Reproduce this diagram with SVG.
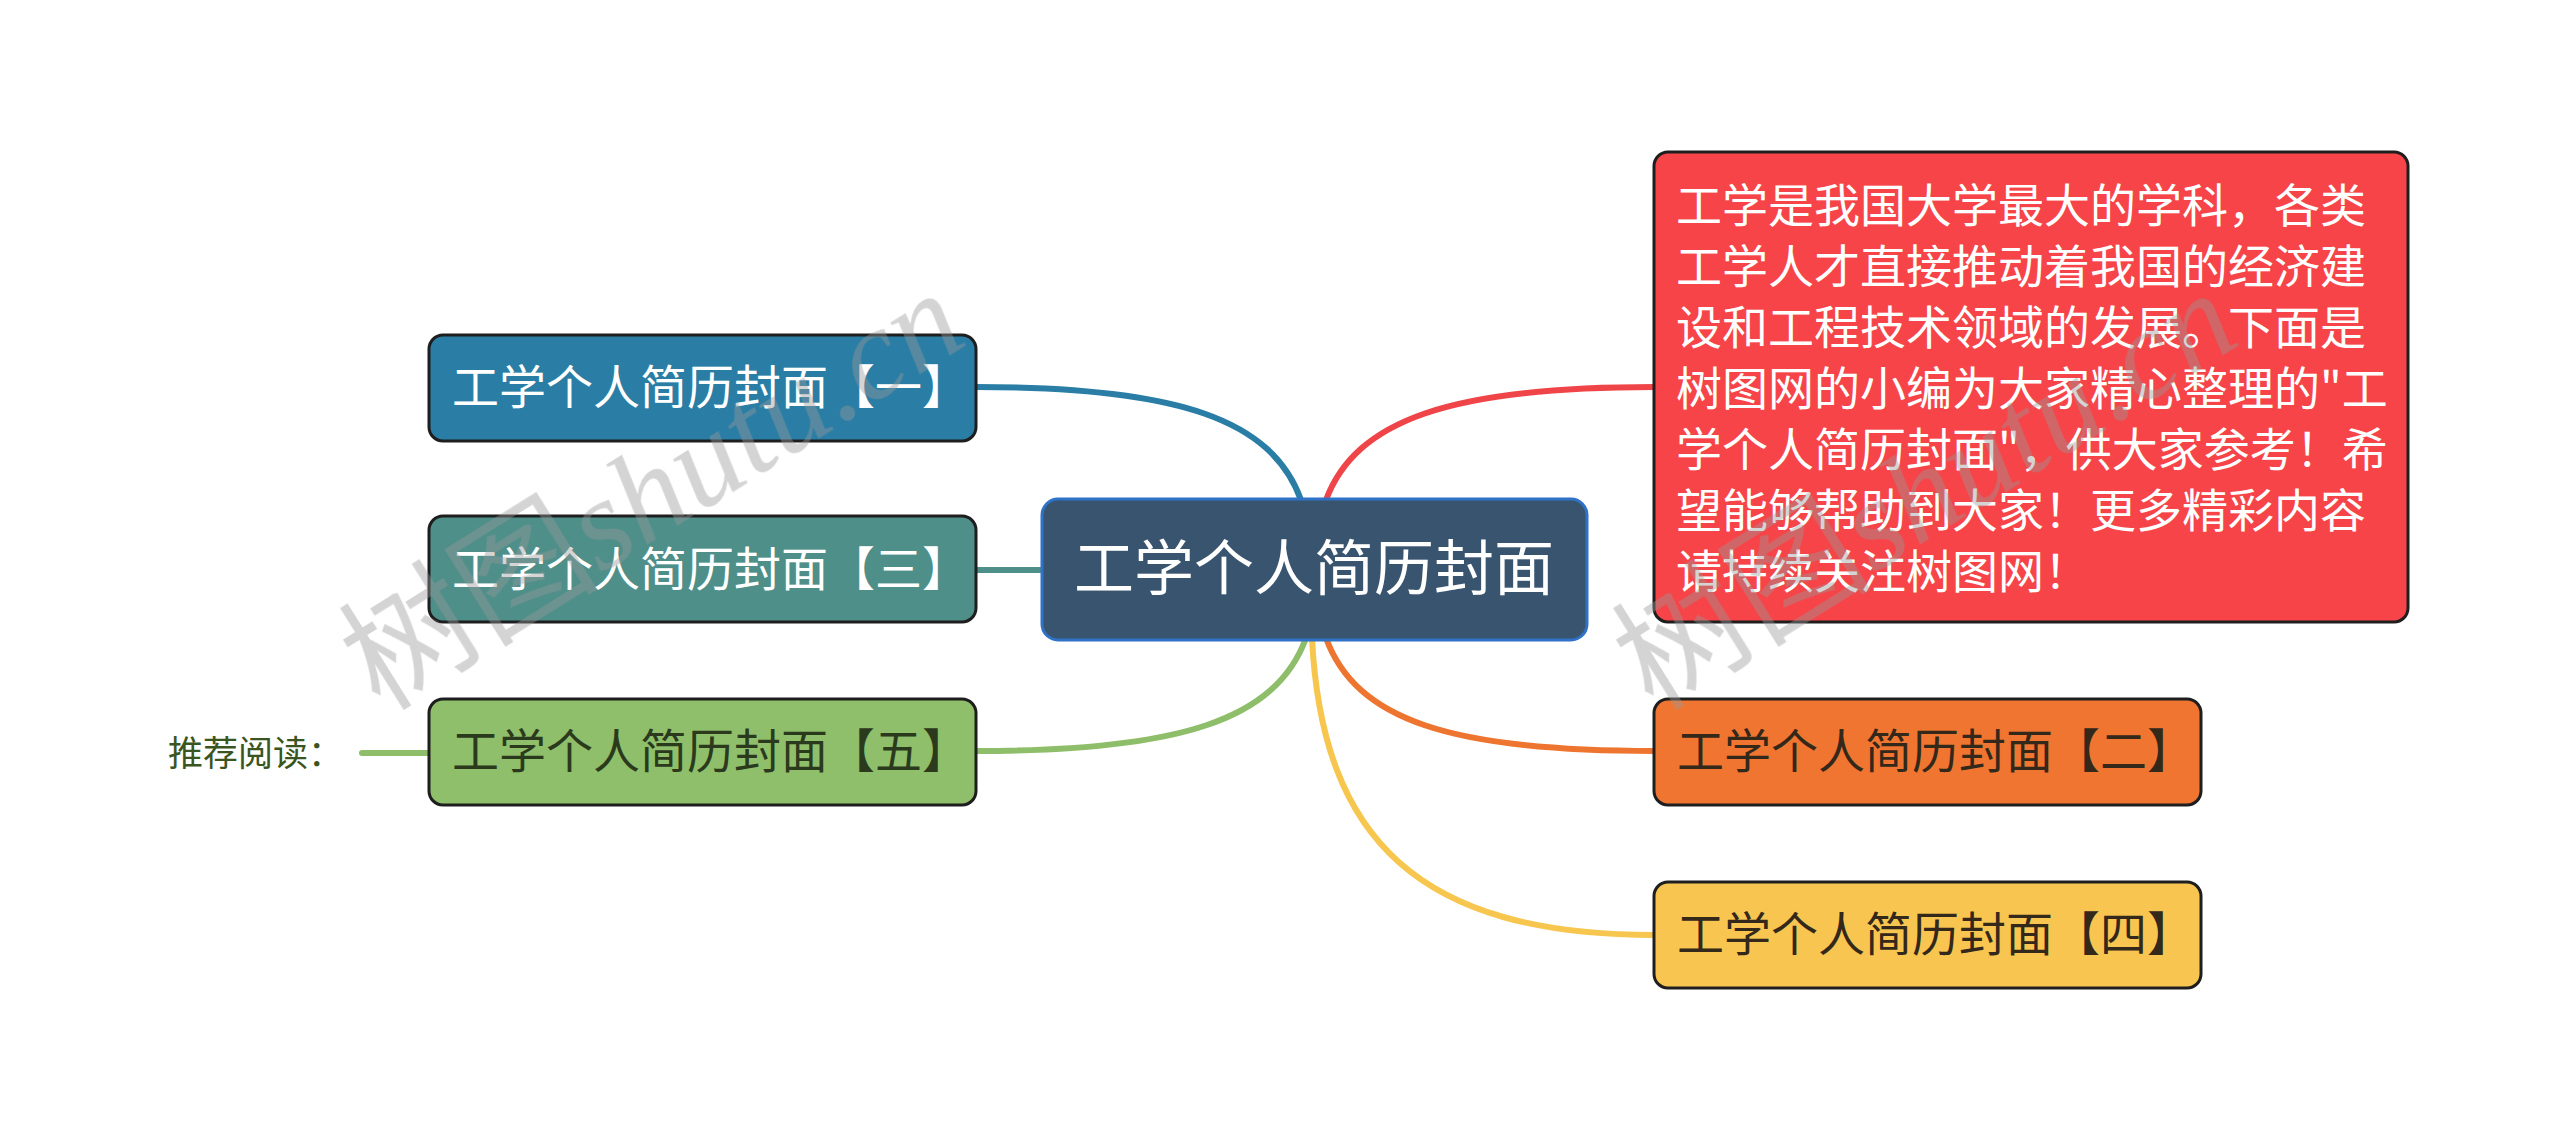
<svg xmlns="http://www.w3.org/2000/svg" width="2560" height="1139" viewBox="0 0 2560 1139">
<defs>
<style>
.cjk{font-family:"Noto Sans CJK SC","Noto Sans",sans-serif;}
.node rect{stroke:#1e1e1e;stroke-width:3;}
.sub{font-size:47px;}
.light{fill:#ffffff;}
.dark{fill:#33281a;}
.conn path{fill:none;stroke-width:6;stroke-linecap:round;}
.wm{font-size:130px;fill:#9a9a9a;opacity:0.42;}
</style>
</defs>
<rect width="2560" height="1139" fill="#ffffff"/>
<g id="connectors" class="conn">
<path d="M 1301 500 C 1272 420, 1180 387, 976 387" stroke="#2a7ea5"/>
<path d="M 976 570 L 1042 570" stroke="#4e8f8a"/>
<path d="M 1306 638 C 1276 720, 1180 751, 976 751" stroke="#8fbe6a"/>
<path d="M 362 753 L 429 753" stroke="#8fbe6a"/>
<path d="M 1326 500 C 1356 420, 1450 387, 1654 387" stroke="#f04548"/>
<path d="M 1326 638 C 1356 720, 1450 751, 1654 751" stroke="#ee7530"/>
<path d="M 1312 638 C 1322 840, 1420 935, 1654 935" stroke="#f6c64e"/>
</g>
<g id="center" class="node">
<rect x="1042" y="499" width="545" height="141" rx="16" fill="#38546f" style="stroke:#2f72c8"/>
<text class="cjk light" x="1314" y="590" font-size="60" text-anchor="middle">工学个人简历封面</text>
</g>
<g id="n1" class="node">
<rect x="429" y="335" width="547" height="106" rx="14" fill="#2a7ea5"/>
<text class="cjk light sub" x="452" y="404">工学个人简历封面【一】</text>
</g>
<g id="n3" class="node">
<rect x="429" y="516" width="547" height="106" rx="14" fill="#4f8f8a"/>
<text class="cjk light sub" x="452" y="586">工学个人简历封面【三】</text>
</g>
<g id="n5" class="node">
<rect x="429" y="699" width="547" height="106" rx="14" fill="#8fbf6b"/>
<text class="cjk sub" x="452" y="768" fill="#2b3a1c">工学个人简历封面【五】</text>
</g>
<g id="label">
<text class="cjk" x="168" y="766" font-size="35" fill="#3a5520">推荐阅读：</text>
</g>
<g id="desc" class="node">
<rect x="1654" y="152" width="754" height="470" rx="14" fill="#f64448"/>
<text class="cjk light" font-size="46">
<tspan x="1676" y="222">工学是我国大学最大的学科，各类</tspan>
<tspan x="1676" y="283">工学人才直接推动着我国的经济建</tspan>
<tspan x="1676" y="344">设和工程技术领域的发展。下面是</tspan>
<tspan x="1676" y="405">树图网的小编为大家精心整理的"工</tspan>
<tspan x="1676" y="466">学个人简历封面"，供大家参考！希</tspan>
<tspan x="1676" y="527">望能够帮助到大家！更多精彩内容</tspan>
<tspan x="1676" y="588">请持续关注树图网！</tspan>
</text>
</g>
<g id="n2" class="node">
<rect x="1654" y="699" width="547" height="106" rx="14" fill="#f07530"/>
<text class="cjk dark sub" x="1677" y="768">工学个人简历封面【二】</text>
</g>
<g id="n4" class="node">
<rect x="1654" y="882" width="547" height="106" rx="14" fill="#f8c650"/>
<text class="cjk dark sub" x="1677" y="951">工学个人简历封面【四】</text>
</g>
<g id="watermarks" class="wm">
<text transform="rotate(-32 380 712)" x="380" y="712"><tspan class="cjk">树图</tspan><tspan font-family="'Liberation Serif',serif" font-style="italic">shutu.cn</tspan></text>
<text transform="rotate(-32 1653 712)" x="1653" y="712"><tspan class="cjk">树图</tspan><tspan font-family="'Liberation Serif',serif" font-style="italic">shutu.cn</tspan></text>
</g>
</svg>
